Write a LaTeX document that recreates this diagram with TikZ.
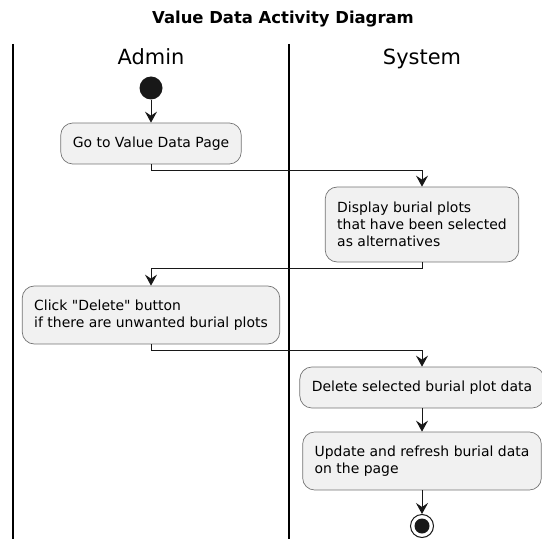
\documentclass[tikz,border=0pt]{standalone}
\usepackage{fontspec}
\setmainfont{DejaVu Sans}
\usepackage{tikz}
\usetikzlibrary{positioning,arrows.meta}
\definecolor{boxfill}{HTML}{F1F1F1}
\definecolor{linecol}{HTML}{181818}

\begin{document}
\begin{tikzpicture}[
    x=1bp, y=-1bp,
    >={Stealth[length=11bp,width=12bp,inset=4bp]},
    flow/.style={->, draw=linecol, line width=1bp},
    lane/.style={draw=black, line width=1.8bp},
    action/.style={rectangle, rounded corners=12bp, draw=linecol!60, fill=boxfill, line width=0.7bp, inner xsep=12bp, inner ysep=0pt, align=left, font=\fontsize{14}{17}\selectfont},
    lanetitle/.style={font=\fontsize{21}{25}\selectfont, inner sep=0pt, anchor=base},
    startnode/.style={circle, fill=linecol, minimum size=23bp, inner sep=0pt},
    stopnode/.style={circle, draw=linecol, fill=white, line width=1bp, minimum size=23bp, inner sep=0pt,
        path picture={\fill[linecol] (path picture bounding box.center) circle (7.5bp);}}
]
\useasboundingbox (0,0) rectangle (542,539);

% Lanes
\def\xA{151}
\def\xS{422}
\def\xL{13}
\def\xM{289}

% Title and swimlanes
\node[font=\bfseries\fontsize{16.5}{20}\selectfont] (title) at (283,19) {Value Data Activity Diagram};
\draw[lane] (\xL,44) -- (\xL,539);
\draw[lane] (\xM,44) -- (\xM,539);
\node[lanetitle] (admin) at (\xA,65) {Admin};
\node[lanetitle] (system) at (\xS,65) {System};

% Admin opens the page
\node[startnode] (start) at (\xA,88) {};
\node[action, minimum height=41bp] (gopage) at (\xA,143.5) {Go to Value Data Page};
\draw[flow] (start) -- (gopage);

% System shows plots
\node[action, minimum height=75bp] (display) at (\xS,224.5) {Display burial plots\\that have been selected\\as alternatives};
\draw[flow] (gopage.south) -- ++(0,6) -| (display.north);

% Admin deletes
\node[action, minimum height=58bp] (clickdel) at (\xA,315) {Click \textquotedbl Delete\textquotedbl{} button\\if there are unwanted burial plots};
\draw[flow] (display.south) -- ++(0,6) -| (clickdel.north);

% System deletes and refreshes
\node[action, minimum height=41bp] (deldata) at (\xS,387.5) {Delete selected burial plot data};
\draw[flow] (clickdel.south) -- ++(0,6) -| (deldata.north);

\node[action, minimum height=58bp] (refresh) at (\xS,461) {Update and refresh burial data\\on the page};
\draw[flow] (deldata) -- (refresh);

% End
\node[stopnode] (stop) at (\xS,526) {};
\draw[flow] (refresh) -- (stop);
\end{tikzpicture}
\end{document}
